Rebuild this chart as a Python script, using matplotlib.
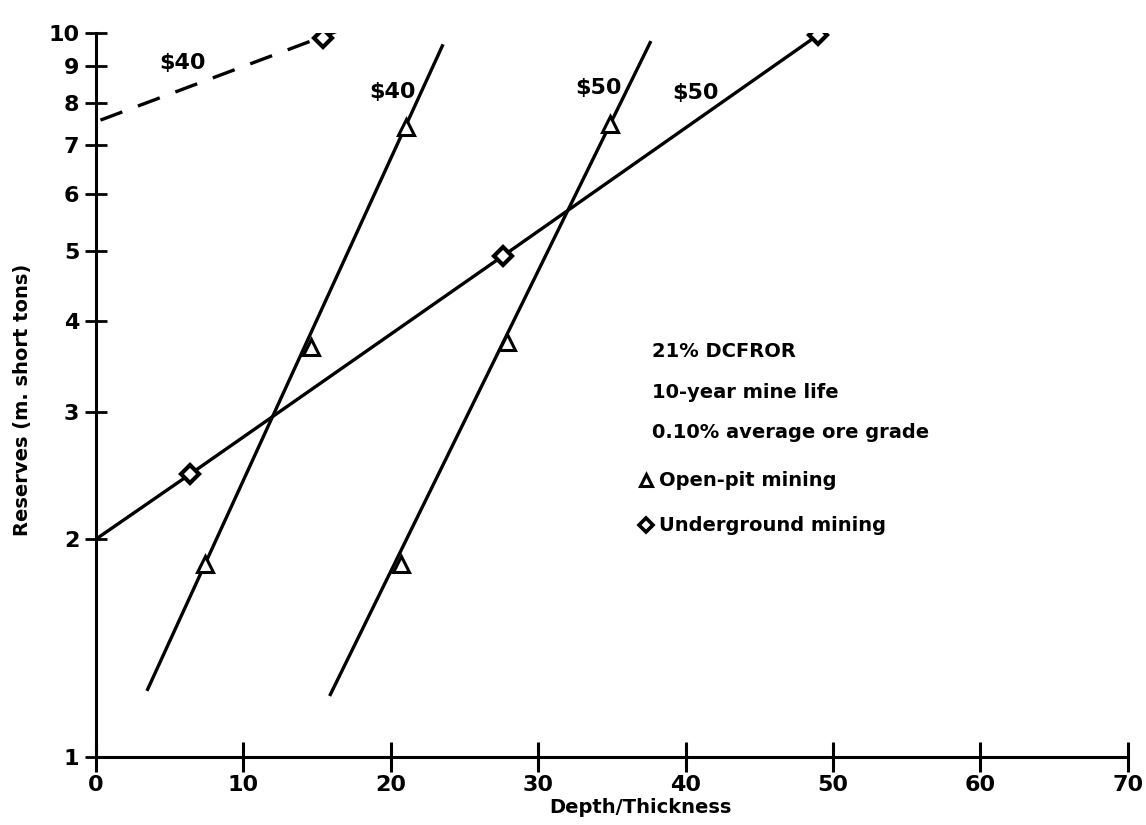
import matplotlib
matplotlib.use("Agg")
import matplotlib.pyplot as plt
from matplotlib.ticker import FixedLocator, NullLocator

plt.rcParams['font.family'] = ['DejaVu Sans']
plt.rcParams['font.weight'] = 'bold'

# Open-pit mining curves (depth/thickness vs reserves)
op40_line_x = [3.5, 23.5]
op40_line_y = [1.24, 9.6]
op40_pts_x = [7.4, 14.6, 21.0]
op40_pts_y = [1.85, 3.68, 7.42]

op50_line_x = [15.9, 37.6]
op50_line_y = [1.22, 9.7]
op50_pts_x = [20.7, 27.9, 34.9]
op50_pts_y = [1.85, 3.74, 7.49]

# Underground mining curves
ug50_line_x = [0.0, 6.4, 27.6, 49.0, 50.3]
ug50_line_y = [2.0, 2.46, 4.92, 9.94, 10.3]
ug50_pts_x = [6.4, 27.6, 49.0]
ug50_pts_y = [2.46, 4.92, 9.94]

ug40_line_x = [0.3, 16.6]
ug40_line_y = [7.58, 10.1]
ug40_pts_x = [15.4]
ug40_pts_y = [9.84]

x_ticks = [0, 10, 20, 30, 40, 50, 60, 70]
y_ticks = [1, 2, 3, 4, 5, 6, 7, 8, 9, 10]

notes = ["21% DCFROR", "10-year mine life", "0.10% average ore grade"]
note_y = [3.63, 3.19, 2.81]

fig = plt.figure(figsize=(11.46, 8.25), dpi=100)
ax = fig.add_axes([0.0838, 0.0824, 0.9002, 0.8776])
ax.set_yscale('log')
ax.set_xlim(0, 70)
ax.set_ylim(1, 10)

lw = 2.4
ax.plot(op40_line_x, op40_line_y, color='black', lw=lw)
ax.plot(op50_line_x, op50_line_y, color='black', lw=lw)
ax.plot(ug50_line_x, ug50_line_y, color='black', lw=lw)
ax.plot(ug40_line_x, ug40_line_y, color='black', lw=lw, dashes=(7, 5))

tri = dict(marker='^', ms=11, mfc='white', mec='black', mew=2.2, ls='none', zorder=3)
dia = dict(marker='D', ms=9, mfc='white', mec='black', mew=3.0, ls='none', zorder=3)
ax.plot(op40_pts_x, op40_pts_y, **tri)
ax.plot(op50_pts_x, op50_pts_y, **tri)
ax.plot(ug50_pts_x, ug50_pts_y, **dia)
ax.plot(ug40_pts_x, ug40_pts_y, **dia)

# Price labels on curves
lab = dict(fontsize=16, fontweight='bold', ha='center', va='center')
ax.text(5.9, 9.1, "$40", **lab)
ax.text(20.1, 8.29, "$40", **lab)
ax.text(34.1, 8.4, "$50", **lab)
ax.text(40.7, 8.26, "$50", **lab)

# Annotation block
for s, yv in zip(notes, note_y):
    ax.text(37.7, yv, s, fontsize=14, fontweight='bold', va='center')
ax.plot([37.3], [2.41], marker='^', ms=9, mfc='white', mec='black', mew=2.2, ls='none')
ax.text(38.2, 2.41, "Open-pit mining", fontsize=14, fontweight='bold', va='center')
ax.plot([37.3], [2.09], marker='D', ms=7, mfc='white', mec='black', mew=2.6, ls='none')
ax.text(38.2, 2.09, "Underground mining", fontsize=14, fontweight='bold', va='center')

ax.spines['top'].set_visible(False)
ax.spines['right'].set_visible(False)
for sp in ('left', 'bottom'):
    ax.spines[sp].set_linewidth(2.2)

ax.xaxis.set_major_locator(FixedLocator(x_ticks))
ax.set_xticklabels([str(v) for v in x_ticks])
ax.yaxis.set_major_locator(FixedLocator(y_ticks))
ax.yaxis.set_minor_locator(NullLocator())
ax.set_yticklabels([str(v) for v in y_ticks])
ax.tick_params(axis='x', direction='inout', length=22, width=2.2, labelsize=16, pad=2)
ax.tick_params(axis='y', direction='inout', length=16, width=2.0, labelsize=16, pad=4)
for t in ax.get_xticklabels() + ax.get_yticklabels():
    t.set_fontweight('bold')

ax.set_xlabel("Depth/Thickness", fontsize=14, fontweight='bold')
ax.set_ylabel("Reserves (m. short tons)", fontsize=14, fontweight='bold')
ax.xaxis.set_label_coords(0.528, -0.056)
ax.yaxis.set_label_coords(-0.062, 0.493)

fig.savefig("out.png", dpi=100)
